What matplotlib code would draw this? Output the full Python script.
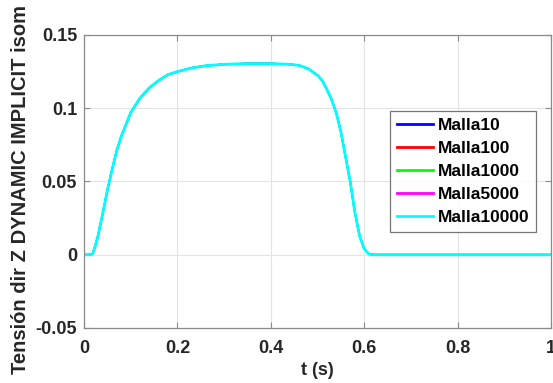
import matplotlib
matplotlib.use("Agg")
import matplotlib.pyplot as plt

plt.rcParams['font.family'] = ['Liberation Sans', 'DejaVu Sans']
plt.rcParams['font.weight'] = 'bold'

# time (s) and stress values (all meshes coincide)
t = [0, 0.01, 0.018, 0.02, 0.025, 0.03, 0.04, 0.05, 0.06, 0.07, 0.08, 0.09,
     0.10, 0.12, 0.14, 0.16, 0.18, 0.20, 0.23, 0.26, 0.30, 0.35, 0.40, 0.44,
     0.46, 0.48, 0.50, 0.51, 0.52, 0.53, 0.54, 0.55, 0.56, 0.57, 0.58, 0.59,
     0.60, 0.61, 0.62, 0.70, 0.80, 0.90, 1.00]
tension = [0, 0, 0.0005, 0.002, 0.007, 0.013, 0.028, 0.044, 0.058, 0.071,
           0.081, 0.089, 0.097, 0.107, 0.114, 0.119, 0.123, 0.125, 0.1275,
           0.129, 0.130, 0.1305, 0.1305, 0.130, 0.1293, 0.127, 0.1225, 0.119,
           0.113, 0.106, 0.097, 0.084, 0.067, 0.050, 0.029, 0.013, 0.004,
           0.0005, 0, 0, 0, 0, 0]

series_names = ['Malla10', 'Malla100', 'Malla1000', 'Malla5000', 'Malla10000']
series_colors = ['#0000ff', '#ff0000', '#00ff00', '#ff00ff', '#00ffff']
series_values = [tension, tension, tension, tension, tension]

xticks = [0, 0.2, 0.4, 0.6, 0.8, 1]
xticklabels = ['0', '0.2', '0.4', '0.6', '0.8', '1']
yticks = [-0.05, 0, 0.05, 0.1, 0.15]
yticklabels = ['-0.05', '0', '0.05', '0.1', '0.15']

fig = plt.figure(figsize=(5.53, 3.83), dpi=100)
ax = fig.add_axes([84/553, 1-328/383, 467/553, 293/383])

n = len(series_names)
for i, (name, col, vals) in enumerate(zip(series_names, series_colors, series_values)):
    lw = 2.0 if i == n - 1 else 1.2
    ax.plot(t, vals, color=col, lw=lw, label=name)

ax.set_xlim(0, 1)
ax.set_ylim(-0.05, 0.15)
ax.set_xticks(xticks)
ax.set_xticklabels(xticklabels)
ax.set_yticks(yticks)
ax.set_yticklabels(yticklabels)
ax.grid(True, color='#e3e3e3', lw=0.8)
ax.set_axisbelow(True)
for s in ax.spines.values():
    s.set_color('#8a8a8a')
    s.set_linewidth(0.9)
ax.tick_params(direction='in', top=True, right=True, length=4, width=0.8,
               color='#8a8a8a', labelsize=13, labelcolor='#262626', pad=5)
ax.tick_params(axis='x', pad=8.5)
for lab in ax.get_xticklabels() + ax.get_yticklabels():
    lab.set_fontweight('bold')

ax.set_xlabel('t (s)', fontsize=13, fontweight='bold', color='#262626', labelpad=4)
fig.text(21/553, 1-190/383, 'Tensión dir Z DYNAMIC IMPLICIT isom', rotation=90,
         ha='center', va='center', fontsize=14.5, fontweight='bold', color='#262626')

leg = ax.legend(loc='upper left', bbox_to_anchor=((390-84)/467, (328-111)/293),
                prop={'weight': 'bold', 'size': 12.5}, frameon=True,
                fancybox=False, edgecolor='#555555', handlelength=2.1,
                handletextpad=0.23, labelspacing=0.45, borderpad=0.4,
                borderaxespad=0)
leg.get_frame().set_linewidth(0.9)
for h in leg.get_lines():
    h.set_linewidth(2.0)

fig.savefig('out.png', dpi=100)
